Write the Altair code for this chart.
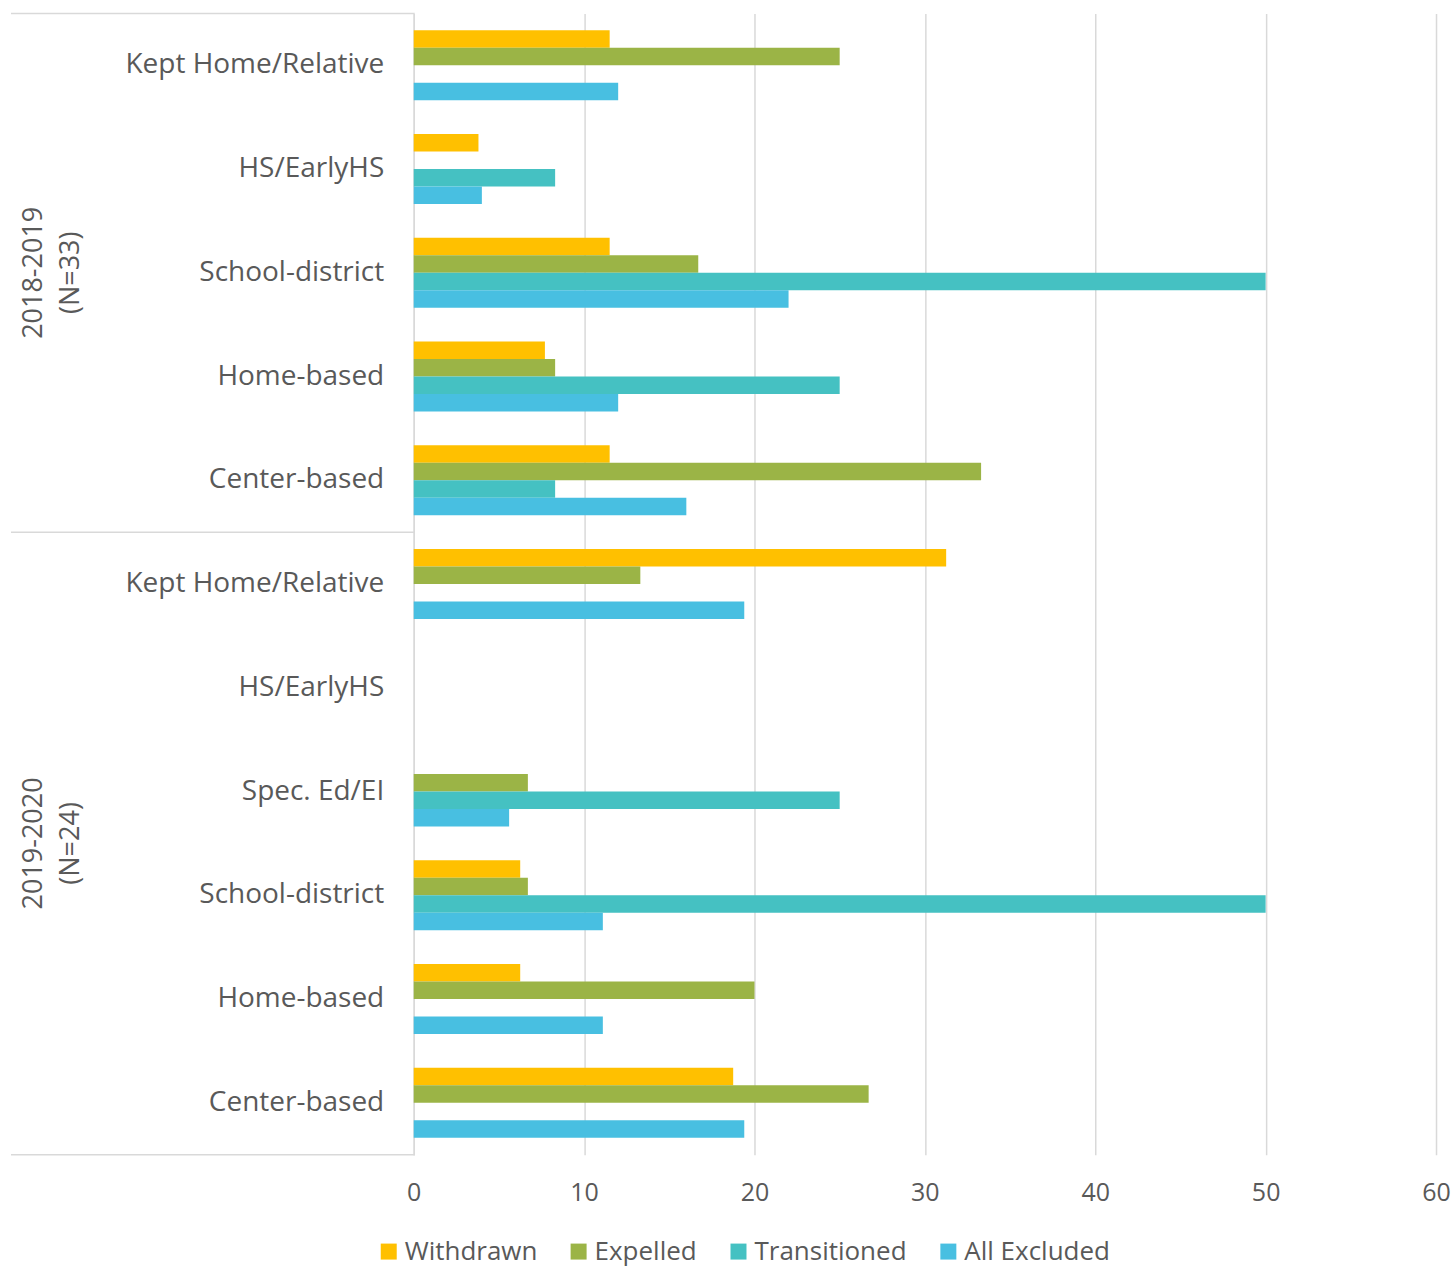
import altair as alt
import pandas as pd

series = ["Withdrawn", "Expelled", "Transitioned", "All Excluded"]
colors = ["#FFC000", "#9BB446", "#45C1C2", "#48BFE1"]

group_ids = ["2018-2019", "2019-2020"]
group_labels = ["2018-2019\n(N=33)", "2019-2020\n(N=24)"]

cats_1819 = ["Kept Home/Relative", "HS/EarlyHS", "School-district", "Home-based", "Center-based"]
withdrawn_1819 = [11.5, 3.8, 11.5, 7.7, 11.5]
expelled_1819 = [25.0, 0.0, 16.7, 8.3, 33.3]
transitioned_1819 = [0.0, 8.3, 50.0, 25.0, 8.3]
excluded_1819 = [12.0, 4.0, 22.0, 12.0, 16.0]

cats_1920 = ["Kept Home/Relative", "HS/EarlyHS", "Spec. Ed/EI", "School-district", "Home-based", "Center-based"]
withdrawn_1920 = [31.25, 0.0, 0.0, 6.25, 6.25, 18.75]
expelled_1920 = [13.3, 0.0, 6.7, 6.7, 20.0, 26.7]
transitioned_1920 = [0.0, 0.0, 25.0, 50.0, 0.0, 0.0]
excluded_1920 = [19.4, 0.0, 5.6, 11.1, 11.1, 19.4]

x_ticks = [0, 10, 20, 30, 40, 50, 60]

rows = []
keys = []
for gid, cats, vals in [
    ("2018-2019", cats_1819, [withdrawn_1819, expelled_1819, transitioned_1819, excluded_1819]),
    ("2019-2020", cats_1920, [withdrawn_1920, expelled_1920, transitioned_1920, excluded_1920]),
]:
    for i, c in enumerate(cats):
        k = gid + "|" + c
        keys.append(k)
        for s, v in zip(series, vals):
            rows.append({"key": k, "series": s, "value": v[i]})
df = pd.DataFrame(rows)

FONT = "Open Sans"
TXT = "#595959"
LINE = "#D9D9D9"

yscale = alt.Scale(domain=keys, paddingInner=0, paddingOuter=0)

bars = alt.Chart(df).mark_bar().encode(
    x=alt.X("value:Q", scale=alt.Scale(domain=[0, 60], nice=False),
            axis=alt.Axis(values=x_ticks, title=None, ticks=False, domain=False, grid=True,
                          gridColor=LINE, gridWidth=1.5, labelFontSize=25, labelColor=TXT,
                          labelFont=FONT, labelPadding=26, labelFlush=False)),
    y=alt.Y("key:N", scale=yscale, sort=keys,
            axis=alt.Axis(title=None, ticks=False, labelExpr="split(datum.label, '|')[1]",
                          labelFontSize=28, labelFont=FONT, labelColor=TXT, labelPadding=30,
                          labelLimit=500, domainColor=LINE, domainWidth=1.5, grid=False)),
    yOffset=alt.YOffset("series:N", sort=series,
                        scale=alt.Scale(domain=series, paddingInner=0, paddingOuter=0.965)),
    color=alt.Color("series:N", sort=series, scale=alt.Scale(domain=series, range=colors),
                    legend=alt.Legend(title=None, orient="none", direction="horizontal",
                                      legendX=-38, legendY=1226, symbolType="square",
                                      symbolSize=256, symbolStrokeWidth=0, labelFontSize=26,
                                      labelFont=FONT, labelColor=TXT, columnPadding=28,
                                      labelOffset=3)),
)

sep_top = pd.DataFrame({"key": [keys[0], keys[len(cats_1819)]]})
sep_bottom = pd.DataFrame({"key": [keys[-1]]})

rule_top = alt.Chart(sep_top).mark_rule(color=LINE, strokeWidth=1.5).encode(
    y=alt.Y("key:N", scale=yscale, sort=keys, bandPosition=0),
    x=alt.value(-403), x2=alt.value(1))
rule_bottom = alt.Chart(sep_bottom).mark_rule(color=LINE, strokeWidth=1.5).encode(
    y=alt.Y("key:N", scale=yscale, sort=keys, bandPosition=1),
    x=alt.value(-403), x2=alt.value(1))

g1 = pd.DataFrame({"key": ["2018-2019|School-district"], "label": [group_labels[0]]})
g2 = pd.DataFrame({"key": ["2019-2020|School-district"], "label": [group_labels[1]]})

text_kw = dict(angle=270, lineBreak="\n", fontSize=27, font=FONT, color=TXT,
               align="center", baseline="middle", lineHeight=37)
t1 = alt.Chart(g1).mark_text(**text_kw).encode(
    y=alt.Y("key:N", scale=yscale, sort=keys, bandPosition=0.5),
    x=alt.value(-380), text="label:N")
t2 = alt.Chart(g2).mark_text(**text_kw).encode(
    y=alt.Y("key:N", scale=yscale, sort=keys, bandPosition=0),
    x=alt.value(-380), text="label:N")

chart = alt.layer(bars, rule_top, rule_bottom, t1, t2).properties(
    width=1023, height=1142,
    background="white",
    padding={"left": 10, "top": 12, "right": 5, "bottom": 5},
).configure_view(strokeWidth=0, stroke="transparent")

chart.save("out.html", embed_options={"renderer": "svg", "actions": False})
